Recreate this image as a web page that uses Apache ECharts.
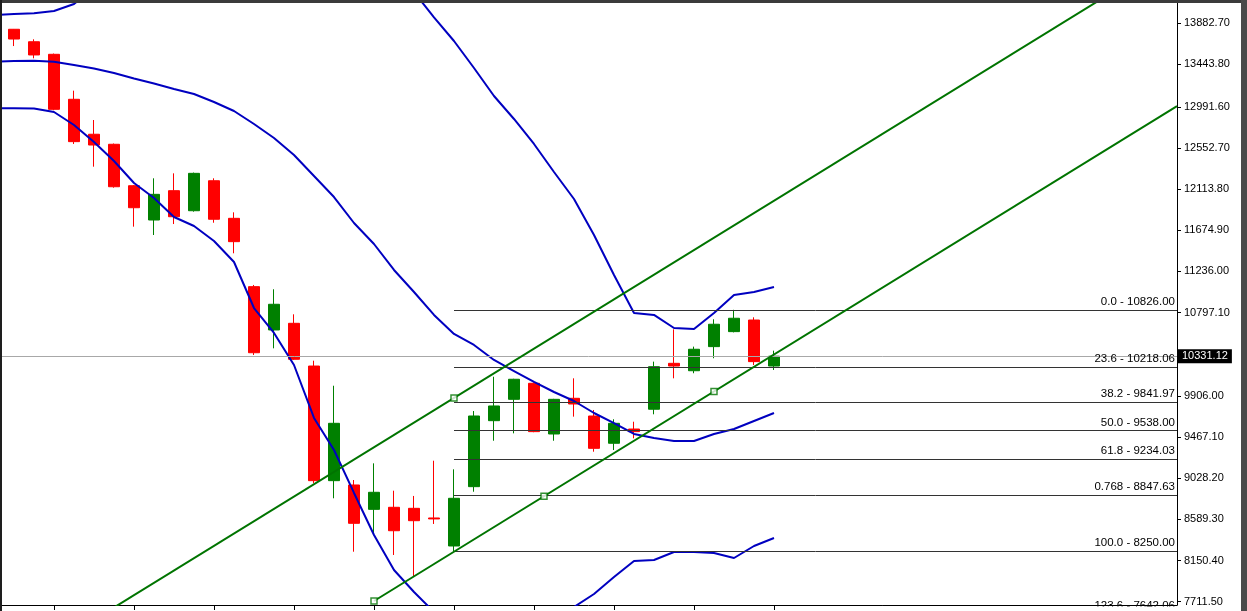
<!DOCTYPE html>
<html><head><meta charset="utf-8">
<script src="https://cdn.jsdelivr.net/npm/echarts@6/dist/echarts.min.js"></script>
<style>html,body{margin:0;padding:0;background:#fff;}#c{width:1247px;height:611px;}</style>
</head><body><div id="c"></div>
<script>
// ---- data ----
const candleStart = 0; // bar index of first candle
// [open, close, low, high]
const ohlc = [
  [13819,13715,13640,13822],[13686,13545,13509,13712],[13552,12965,12955,13560],[13072,12620,12595,13164],
  [12699,12584,12353,12851],[12592,12139,12129,12600],[12150,11915,11713,12158],[11784,12058,11624,12229],
  [12097,11819,11741,12282],[11883,12282,11873,12290],[12203,11792,11755,12229],[11802,11553,11429,11866],
  [11073,10368,10344,11091],[10611,10885,10415,11045],[10682,10298,10291,10778],[10226,9003,8975,10283],
  [9003,9615,8815,10016],[8957,8548,8245,9010],[8697,8879,8423,9188],[8719,8469,8210,8896],
  [8708,8576,7986,8840],[8605,8595,8541,9216],[8306,8815,8250,9124],[8939,9693,8885,9746],
  [9643,9800,9429,10112],[9871,10085,9508,10090],[10042,9526,9520,10050],[9501,9871,9429,9876],
  [9882,9821,9686,10095],[9693,9348,9312,9757],[9402,9615,9330,9658],[9554,9526,9455,9632],
  [9765,10219,9711,10273],[10255,10226,10095,10618],[10176,10405,10149,10433],[10433,10672,10309,10725],
  [10593,10736,10585,10826],[10717,10273,10237,10746],[10226,10331.12,10184,10390]
];
const bandStart = -1; // bar index of first band value
const upperBand = [13971,13982,13989,14014,14089,14260,14380,14470,14540,14590,14620,14640,14660,14680,14690,14700,14700,14690,14660,14600,
  14490,14217,13945,13694,13406,13107,12862,12595,12296,12008,11624,11197,10792,10771,10632,10621,10792,10984,11016,11069];
const middleBand = [13473,13481,13484,13473,13438,13401,13353,13294,13240,13182,13128,13043,12947,12808,12659,12478,12254,12029,11752,11528,
  11251,11016,10771,10568,10451,10291,10173,10056,9949,9853,9725,9618,9501,9458,9426,9426,9501,9554,9640,9725];
const lowerBand = [12976,12976,12974,12936,12798,12616,12414,12179,12019,11816,11720,11560,11336,10845,10579,10237,9672,9330,8872,8423,
  8050,7815,7602,7480,7400,7360,7350,7380,7470,7655,7794,7975,8146,8157,8242,8242,8231,8178,8306,8391];
const fibRatios = ['0.0','23.6','38.2','50.0','61.8','0.768','100.0','123.6'];
const fibValues = [10826.00,10218.06,9841.97,9538.00,9234.03,8847.63,8250.00,7642.06];
const fibStart = 22;
const channelUpper = [[5,7650],[55,14225]];
const channelLower = [[18,7719],[58.15,12999]];
const channelAnchors = [[18,7719],[26.5,8837],[35,9954],[22,9885]];
const lastPrice = 10331.12;
const yTicks = [7711.50,8150.40,8589.30,9028.20,9467.10,9906.00,10797.10,11236.00,11674.90,12113.80,12552.70,12991.60,13443.80,13882.70];
const xTicks = [2,6,10,14,18,22,26,30,34,38];
const xMin = -0.7, xMax = 58.15, yMin = 7676.5, yMax = 14099.3;

// ---- chart ----
const FONT = "'Liberation Sans', Arial, sans-serif";
const chart = echarts.init(document.getElementById('c'), null, {renderer:'canvas'});
const bandData = arr => arr.map((v,i)=>[bandStart+i, v]);
const bandSeries = arr => ({type:'line', data: bandData(arr), showSymbol:false, symbol:'none', silent:true,
  lineStyle:{color:'#0000c0', width:2}, z:4, clip:true});
const fibLines = [];
fibValues.forEach((v,i)=>{ if (v >= yMin) fibLines.push([
  {coord:[fibStart, v], label:{formatter: fibRatios[i] + ' - ' + v.toFixed(2)}}, {coord:[xMax, v]}]); });

chart.setOption({
  animation:false,
  backgroundColor:'#fff',
  grid:{left:0, right:70, top:3, height:602, containLabel:false},
  xAxis:{type:'value', min:xMin, max:xMax, splitLine:{show:false},
    axisLine:{onZero:false, lineStyle:{color:'#000', width:1}},
    axisTick:{show:true, customValues:xTicks, length:5, lineStyle:{color:'#000'}},
    axisLabel:{show:false}},
  yAxis:{type:'value', position:'right', min:yMin, max:yMax, splitLine:{show:false},
    axisLine:{show:true, onZero:false, lineStyle:{color:'#000', width:1}},
    axisTick:{show:true, customValues:yTicks, length:4, lineStyle:{color:'#000'}},
    axisLabel:{customValues:yTicks, formatter:v=>Number(v).toFixed(2), color:'#000', fontSize:11, fontFamily:FONT, margin:7, padding:[3,0,0,0]}},
  series:[
    {type:'line', name:'fib', data:[], z:1,
      markLine:{silent:true, animation:false, symbol:['none','none'],
        lineStyle:{color:'#333', width:1, type:'solid'},
        label:{position:'insideEndTop', color:'#000', fontSize:11.5, fontFamily:FONT, distance:[2,2]},
        emphasis:{disabled:true}, data:fibLines}},
    {type:'candlestick', name:'price', z:2, barWidth:12,
      data: ohlc.map((d,i)=>[candleStart+i, d[0], d[1], d[2], d[3]]),
      encode:{x:0, y:[1,2,3,4]},
      itemStyle:{color:'#008000', color0:'#ff0000', borderColor:'#008000', borderColor0:'#ff0000', borderWidth:1},
      markLine:{silent:true, animation:false, symbol:['none','none'],
        lineStyle:{color:'#a8a8a8', width:1, type:'solid'},
        label:{position:'end', formatter: lastPrice.toFixed(2), color:'#fff', backgroundColor:'#000',
          padding:[2,4,1,4], fontSize:11, fontFamily:FONT, distance:1},
        emphasis:{disabled:true}, data:[{yAxis:lastPrice}]}},
    bandSeries(upperBand), bandSeries(middleBand), bandSeries(lowerBand),
    {type:'line', data:channelUpper, symbol:'none', silent:true, lineStyle:{color:'#007400', width:2}, z:5},
    {type:'line', data:channelLower, symbol:'none', silent:true, lineStyle:{color:'#007400', width:2}, z:5},
    {type:'scatter', data:channelAnchors, symbol:'rect', symbolSize:6, silent:true, z:6,
      itemStyle:{color:'#fff', borderColor:'#007400', borderWidth:1.5}}
  ],
  graphic:[
    {type:'text', x:1175, y:600, z:50, silent:true,
      style:{text: fibRatios[7] + ' - ' + fibValues[7].toFixed(2), align:'right', verticalAlign:'top', fill:'#000', font:'11.5px ' + FONT}},
    {type:'rect', shape:{x:1070, y:606.5, width:106, height:5}, style:{fill:'#fff'}, z:60, silent:true},
    {type:'rect', shape:{x:0, y:0, width:1247, height:3}, style:{fill:'#3b3b3b'}, z:100, silent:true},
    {type:'rect', shape:{x:0, y:0, width:2, height:611}, style:{fill:'#1e1e1e'}, z:100, silent:true},
    {type:'rect', shape:{x:1241, y:0, width:6, height:611}, style:{fill:'#4a4a4a'}, z:100, silent:true}
  ]
});
</script></body></html>
